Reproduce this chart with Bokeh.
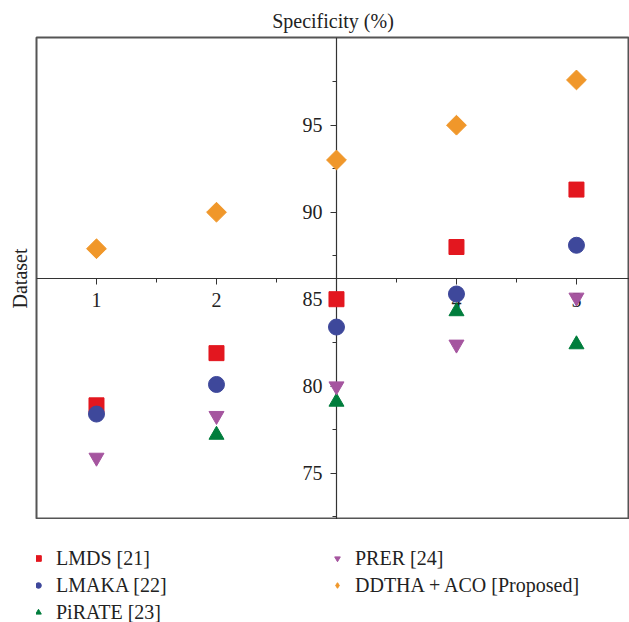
import numpy as np
from bokeh.plotting import figure
from bokeh.models import (ColumnDataSource, FixedTicker, Legend, LegendItem,
                          Title, Range1d)
from bokeh.layouts import column
from bokeh.embed import file_html
from bokeh.resources import INLINE

# ---- data ----
datasets = [1, 2, 3, 4, 5]
lmds = [78.9, 81.9, 85.0, 88.0, 91.3]
lmaka = [78.4, 80.1, 83.4, 85.3, 88.1]
pirate = [np.nan, 77.2, 79.1, 84.3, 82.4]
prer = [75.9, 78.3, 80.0, 82.4, 85.1]
ddtha = [87.9, 90.0, 93.0, 95.0, 97.6]

series_names = ["LMDS [21]", "LMAKA [22]", "PiRATE [23]", "PRER [24]",
                "DDTHA + ACO [Proposed]"]

x_ticks = [1, 2, 3, 4, 5]
x_minor = [1.5, 2.5, 3.5, 4.5]
y_ticks = [75, 80, 85, 90, 95]
y_minor = [72.5, 77.5, 82.5, 87.5, 92.5, 97.5]

FONT = "Liberation Serif"
COLORS = ["#E3171F", "#3E489B", "#007D3C", "#A5559F", "#F0972A"]

p = figure(frame_width=593, frame_height=482,
           min_border_left=36, min_border_right=0,
           min_border_top=37, min_border_bottom=0,
           x_range=Range1d(0.5, 5.442), y_range=Range1d(72.34, 100.04),
           output_backend="svg", toolbar_location=None)
p.grid.visible = False
p.outline_line_color = "#555555"
p.outline_line_width = 2
p.background_fill_color = "white"
p.border_fill_color = "white"

# axes crossing in the middle
for ax in (p.xaxis[0], p.yaxis[0]):
    ax.axis_line_color = "#333333"
    ax.axis_line_width = 1.2
    ax.major_tick_line_color = "#333333"
    ax.minor_tick_line_color = "#333333"
    ax.major_tick_in = 0
    ax.major_tick_out = 6
    ax.minor_tick_in = 0
    ax.minor_tick_out = 4
    ax.major_label_text_font = FONT
    ax.major_label_text_font_size = "20px"
    ax.major_label_text_color = "#222222"
    ax.level = "underlay"

p.xaxis.fixed_location = 86.17
p.yaxis.fixed_location = 3
p.xaxis.ticker = FixedTicker(ticks=x_ticks, minor_ticks=x_minor)
p.yaxis.ticker = FixedTicker(ticks=y_ticks, minor_ticks=y_minor)
p.xaxis.major_label_overrides = {3: ""}
p.xaxis.major_label_standoff = 8
p.yaxis.major_label_standoff = 8

p.add_layout(Title(text="Specificity (%)", align="center", text_font=FONT,
                   text_font_size="20px", text_font_style="normal",
                   text_color="#222222", standoff=12, offset=3), "above")
p.add_layout(Title(text="Dataset", align="center", text_font=FONT,
                   text_font_size="20px", text_font_style="normal",
                   text_color="#222222", standoff=12), "left")

src = ColumnDataSource(dict(x=datasets, lmds=lmds, lmaka=lmaka, pirate=pirate,
                            prer=prer, ddtha=ddtha))

p.scatter("x", "lmds", source=src, marker="square", size=15, color=COLORS[0])
p.scatter("x", "lmaka", source=src, marker="circle", size=16, color=COLORS[1])
p.scatter("x", "pirate", source=src, marker="triangle", size=15,
          color=COLORS[2])
p.scatter("x", "prer", source=src, marker="inverted_triangle", size=15,
          color=COLORS[3])
p.scatter("x", "ddtha", source=src, marker="square", size=14,
          angle=np.pi / 4, color=COLORS[4])

# ---- legend strip below the plot ----
q = figure(width=629, height=103, x_range=Range1d(20, 21),
           y_range=Range1d(0, 1), x_axis_location=None, y_axis_location=None,
           min_border=0, output_backend="svg", toolbar_location=None)
q.grid.visible = False
q.outline_line_color = None
q.border_fill_color = "white"
legend_markers = ["square", "circle", "triangle", "inverted_triangle",
                  "diamond"]
cols = ["lmds", "lmaka", "pirate", "prer", "ddtha"]
items = []
for name, col, mk, c in zip(series_names, cols, legend_markers, COLORS):
    r = q.scatter("x", col, source=src, marker=mk, color=c)
    items.append(LegendItem(label=name, renderers=[r]))

legend = Legend(items=items, orientation="vertical", nrows=3)
legend.border_line_color = None
legend.background_fill_alpha = 0
legend.padding = 0
legend.margin = 0
legend.spacing = 3
legend.glyph_width = 14
legend.glyph_height = 24
legend.label_height = 24
legend.label_standoff = 11
legend.label_width = 271
legend.label_text_font = FONT
legend.label_text_font_size = "20px"
legend.label_text_color = "#222222"
legend.location = (-5, -2)
q.add_layout(legend, "center")

open("out.html", "w").write(file_html(column(p, q, spacing=0), INLINE))
